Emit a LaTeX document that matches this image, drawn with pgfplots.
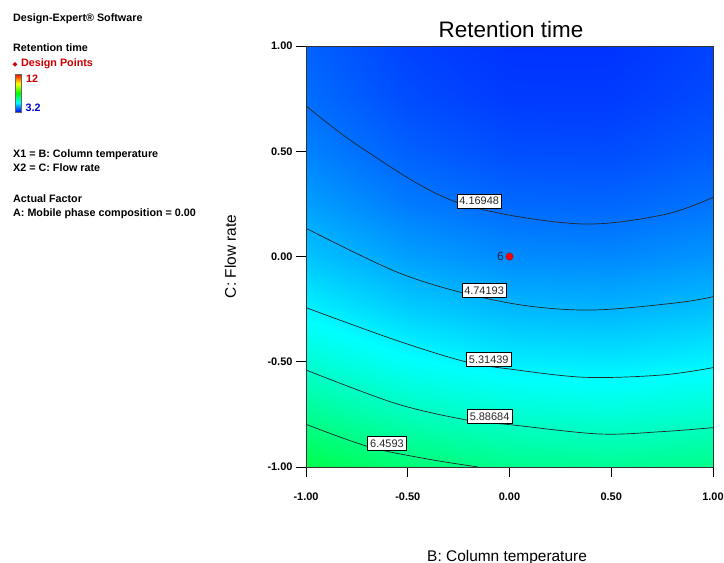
\documentclass[border=0pt]{standalone}
\usepackage{pgfplots}
\pgfplotsset{compat=1.18}
\usepackage{fontspec}
\setmainfont{Liberation Sans}
\newfontfamily\dejavu{DejaVu Sans}
\definecolor{dred}{RGB}{204,0,0}
\definecolor{dblue}{RGB}{0,0,204}
\definecolor{lbltxt}{RGB}{40,40,40}
\definecolor{ptlbl}{RGB}{25,40,80}
\begin{document}
\begin{tikzpicture}
\path[use as bounding box] (0bp,0bp) rectangle (724bp,-563bp);
% ---- left information block ----
\begin{scope}[every node/.style={anchor=base west, inner sep=0pt, font=\bfseries\fontsize{10.8}{12}\selectfont}]
\node at (13bp,-21.5bp) {Design-Expert® Software};
\node at (13bp,-51.5bp) {Retention time};
\node[text=dred] at (12.5bp,-66.5bp) {{\dejavu\fontsize{6.5}{7}\selectfont ◆}\hspace{3.5bp}Design Points};
\node[text=dred] at (26bp,-82.5bp) {12};
\node[text=dblue] at (25.5bp,-111.5bp) {3.2};
\node at (13bp,-157.5bp) {X1 = B: Column temperature};
\node at (13bp,-171.5bp) {X2 = C: Flow rate};
\node at (13bp,-202.5bp) {Actual Factor};
\node at (13bp,-216.5bp) {A: Mobile phase composition = 0.00};
\end{scope}
\shade[bottom color=blue, top color=cyan] (15bp,-112bp) rectangle (21bp,-102.5bp);
\shade[bottom color=cyan, top color=green] (15bp,-102.5bp) rectangle (21bp,-93bp);
\shade[bottom color=green, top color=yellow] (15bp,-93bp) rectangle (21bp,-83.5bp);
\shade[bottom color=yellow, top color=red] (15bp,-83.5bp) rectangle (21bp,-74bp);
\draw[black!60, line width=0.5bp] (15bp,-112bp) rectangle (21bp,-74bp);
% ---- contour plot ----
\begin{axis}[
  at={(306bp,-467bp)}, anchor=south west,
  scale only axis, width=407bp, height=421bp,
  xmin=-1, xmax=1, ymin=-1, ymax=1,
  xtick={-1,-0.5,0,0.5,1}, xticklabels={-1.00,-0.50,0.00,0.50,1.00},
  ytick={-1,-0.5,0,0.5,1}, yticklabels={-1.00,-0.50,0.00,0.50,1.00},
  xtick pos=bottom, ytick pos=left,
  tick align=outside, major tick length=10bp,
  tick style={black, line width=0.6bp},
  axis line style={black!80, line width=0.6bp},
  axis on top,
  ticklabel style={font=\bfseries\fontsize{11}{12}\selectfont},
  xticklabel style={yshift=-12bp},
  colormap={de}{rgb255=(0,0,255) rgb255=(0,255,255) rgb255=(0,255,0) rgb255=(255,255,0) rgb255=(255,0,0)},
  point meta min=3.2, point meta max=12,
  title={Retention time},
  title style={font=\fontsize{22.5}{24}\selectfont, at={(axis description cs:0.5037,1)}, anchor=base, yshift=3bp},
  xlabel={B: Column temperature},
  xlabel style={font=\fontsize{15.5}{17}\selectfont, at={(axis description cs:0.494,-0.2233)}, anchor=base},
  ylabel={C: Flow rate},
  ylabel style={font=\fontsize{15.5}{17}\selectfont, at={(axis description cs:-0.172,0.5)}, anchor=base},
]
\addplot[surf, shader=interp, mesh/cols=5, point meta=explicit] table[x=x, y=y, meta=f] {
x y f
-1 -1 6.945
-0.5 -1 6.596
0 -1 6.389
0.5 -1 6.325
1 -1 6.403
-1 -0.75 6.321
-0.5 -0.75 5.980
0 -0.75 5.782
0.5 -0.75 5.726
1 -0.75 5.813
-1 -0.5 5.771
-0.5 -0.5 5.439
0 -0.5 5.249
0.5 -0.5 5.202
1 -0.5 5.297
-1 -0.25 5.297
-0.5 -0.25 4.973
0 -0.25 4.792
0.5 -0.25 4.753
1 -0.25 4.857
-1 0 4.897
-0.5 0 4.582
0 0 4.409
0.5 0 4.379
1 0 4.491
-1 0.25 4.573
-0.5 0.25 4.266
0 0.25 4.102
0.5 0.25 4.080
1 0.25 4.201
-1 0.5 4.323
-0.5 0.5 4.025
0 0.5 3.869
0.5 0.5 3.856
1 0.5 3.985
-1 0.75 4.149
-0.5 0.75 3.859
0 0.75 3.712
0.5 0.75 3.707
1 0.75 3.845
-1 1 4.049
-0.5 1 3.768
0 1 3.629
0.5 1 3.633
1 1 3.779
};
% contour lines
\addplot[black!85, line width=0.7bp, smooth, tension=0.55] coordinates {(-1,0.716) (-0.724,0.514) (-0.265,0.26) (0.324,0.156) (0.75,0.197) (1,0.281)};
\addplot[black!85, line width=0.7bp, smooth, tension=0.55] coordinates {(-1,0.134) (-0.563,-0.07) (-0.232,-0.172) (0.092,-0.235) (0.42,-0.254) (0.83,-0.219) (1,-0.191)};
\addplot[black!85, line width=0.7bp, smooth, tension=0.55] coordinates {(-1,-0.243) (-0.56,-0.397) (-0.216,-0.5) (0.013,-0.536) (0.373,-0.574) (0.748,-0.563) (1,-0.528)};
\addplot[black!85, line width=0.7bp, smooth, tension=0.55] coordinates {(-1,-0.539) (-0.56,-0.698) (-0.208,-0.777) (0.013,-0.8) (0.439,-0.843) (0.748,-0.832) (1,-0.813)};
\addplot[black!85, line width=0.7bp, smooth, tension=0.55] coordinates {(-1,-0.797) (-0.691,-0.904) (-0.397,-0.963) (-0.154,-1)};
% contour labels
\begin{scope}[every node/.style={fill=white, draw=black, line width=0.5bp, inner xsep=2.5bp, inner ysep=3bp, text height=8bp, text depth=0pt, font=\fontsize{11}{12}\selectfont, text=lbltxt}]
\node at (axis cs:-0.149,0.264) {4.16948};
\node at (axis cs:-0.125,-0.162) {4.74193};
\node at (axis cs:-0.102,-0.488) {5.31439};
\node at (axis cs:-0.098,-0.759) {5.88684};
\node at (axis cs:-0.602,-0.887) {6.4593};
\end{scope}
% design point
\addplot[only marks, mark=*, mark size=3.6bp, mark options={fill=red, draw=red!75!black, line width=0.5bp}] coordinates {(0,0)};
\node[text=ptlbl, anchor=east, inner sep=0pt, font=\fontsize{12}{13}\selectfont, xshift=-5.5bp] at (axis cs:0,0) {6};
\end{axis}
\end{tikzpicture}
\end{document}
